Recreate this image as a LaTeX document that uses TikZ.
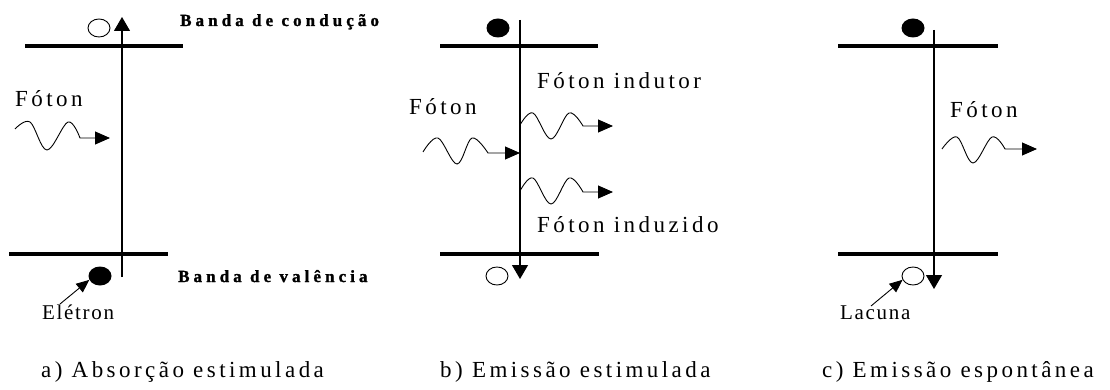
\documentclass[tikz,border=0pt]{standalone}
\usepackage{fontspec}
\setmainfont{Liberation Serif}
\usetikzlibrary{arrows.meta,shapes.geometric}
\tikzset{
  band/.style={line width=4pt},
  trans/.style={line width=1.1pt},
  transtip/.style={trans,-{Triangle[length=14pt,width=16pt]}},
  wave/.style={line width=0.9pt,-{Triangle[length=15pt,width=13pt]}},
  ptr/.style={line width=0.9pt,-{Triangle[length=13pt,width=11pt]}},
  hole/.style={ellipse,draw,line width=0.9pt,minimum width=22pt,minimum height=18pt,inner sep=0pt},
  elec/.style={ellipse,fill,minimum width=23pt,minimum height=19pt,inner sep=0pt},
  lbl/.style={font=\fontsize{23}{23}\selectfont\addfontfeature{LetterSpace=15},inner sep=0pt,anchor=base west},
  small/.style={font=\fontsize{21}{21}\selectfont\addfontfeature{LetterSpace=8},inner sep=0pt,anchor=base west},
  bandlbl/.style={font=\fontsize{17}{17}\selectfont\bfseries\addfontfeature{LetterSpace=24,FakeBold=1.5},inner sep=0pt,anchor=base west},
}
\begin{document}
\begin{tikzpicture}[x=1pt,y=-1pt]
\useasboundingbox (0,0) rectangle (1110,390);
% ---------- a) ----------
\draw[band] (25,46) -- (183,46);
\draw[band] (9,254) -- (168,254);
\draw[transtip] (122,277) -- (122,17);
\node[hole] (ah) at (99,28) {};
\node[elec] (ae) at (100,276) {};
\node[bandlbl] (bc) at (180,26) {Banda de condução};
\node[bandlbl] (bv) at (178,282) {Banda de valência};
\node[lbl] (af) at (15,107) {Fóton};
\draw[wave] plot[smooth,tension=0.6] coordinates {(15,129) (30,122) (47,150) (68,122) (80,138)} -- (110,138);
\node[small] (ael) at (42,319) {Elétron};
\coordinate (aps) at (60,304);
\draw[ptr] (aps) -- (ae.200);
\node[lbl] (acap) at (41,377) {a) Absorção estimulada};
% ---------- b) ----------
\draw[band] (440,46) -- (598,46);
\draw[band] (440,254) -- (599,254);
\draw[transtip] (520,20) -- (520,279);
\node[elec] (be) at (498,28) {};
\node[hole] (bh) at (497,276) {};
\node[lbl] (bf) at (409,115) {Fóton};
\node[lbl] (bfi) at (537,89) {Fóton indutor};
\node[lbl] (bfd) at (537,232) {Fóton induzido};
\draw[wave] plot[smooth,tension=0.6] coordinates {(423,152) (438,138) (457,164) (472,138) (488,153)} -- (520,153);
\draw[wave] plot[smooth,tension=0.6] coordinates {(520,125) (533,113) (551,139) (569,113) (583,126)} -- (613,126);
\draw[wave] plot[smooth,tension=0.6] coordinates {(520,191) (533,178) (551,204) (569,178) (583,192)} -- (613,192);
\node[lbl] (bcap) at (440,377) {b) Emissão estimulada};
% ---------- c) ----------
\draw[band] (838,46) -- (998,46);
\draw[band] (838,254) -- (998,254);
\draw[transtip] (934,30) -- (934,289);
\node[elec] (ce) at (913,28) {};
\node[hole] (ch) at (913,276) {};
\node[lbl] (cf) at (950,118) {Fóton};
\draw[wave] plot[smooth,tension=0.6] coordinates {(942,149) (957,137) (973,163) (992,137) (1005,149)} -- (1037,149);
\node[small] (cl) at (840,319) {Lacuna};
\coordinate (cps) at (871,306);
\draw[ptr] (cps) -- (ch.200);
\node[lbl] (ccap) at (822,377) {c) Emissão espontânea};
\end{tikzpicture}
\end{document}
